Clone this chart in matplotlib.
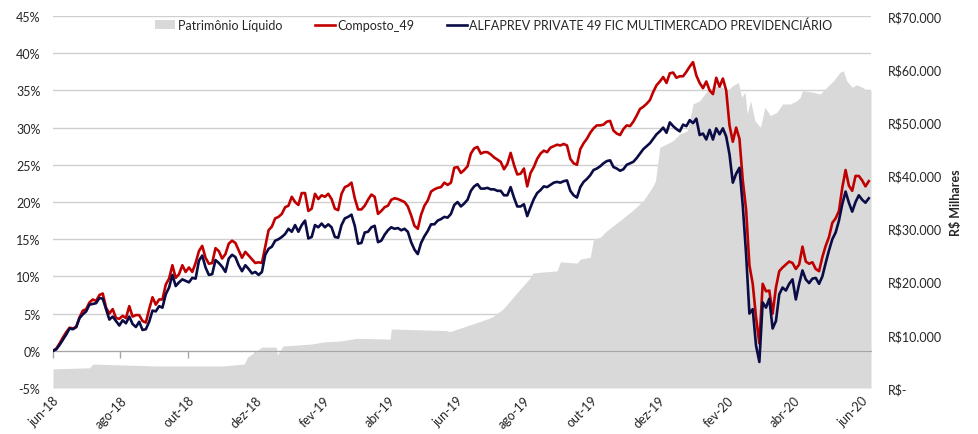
import matplotlib
matplotlib.use('Agg')
import matplotlib.pyplot as plt
import matplotlib.dates as mdates
import pandas as pd
from matplotlib.patches import Patch
from matplotlib.lines import Line2D
from matplotlib.ticker import FixedLocator, FuncFormatter

# daily quotes every 3 days from 2018-06-01, in %
START = '2018-06-01'
COMPOSTO = [
    0, 0.3, 1.0, 1.8, 2.5, 3.1, 3.0, 3.2, 4.5, 5.4,
    5.6, 6.5, 6.9, 6.7, 7.5, 7.7, 5.8, 5.0, 5.6, 4.4,
    4.3, 4.7, 4.4, 6.0, 4.6, 4.8, 4.8, 4.0, 3.8, 5.6,
    7.2, 6.2, 6.9, 6.9, 8.9, 9.7, 11.5, 9.8, 10.3, 11.5,
    10.6, 11.2, 10.6, 11.8, 13.4, 14.1, 12.5, 11.7, 11.8, 13.8,
    13.4, 12.4, 13.0, 14.4, 14.8, 14.5, 13.5, 12.5, 13.3, 12.8,
    12.3, 11.8, 11.9, 11.8, 14.0, 16.2, 16.7, 17.8, 18.0, 18.4,
    19.3, 19.5, 20.7, 20.0, 19.6, 21.2, 21.2, 18.8, 19.1, 21.1,
    20.4, 20.9, 20.7, 21.1, 20.4, 19.1, 18.9, 21.1, 22.0, 22.2,
    22.6, 20.5, 19.0, 19.0, 19.5, 20.3, 21.0, 20.7, 18.4, 18.8,
    19.3, 19.5, 20.3, 20.5, 20.4, 20.2, 20.0, 19.4, 18.2, 16.8,
    16.4, 18.3, 19.5, 20.2, 21.4, 21.7, 21.9, 22.0, 22.6, 22.3,
    22.6, 24.6, 24.7, 23.9, 24.3, 24.8, 26.5, 27.2, 27.4, 26.5,
    26.7, 26.7, 26.4, 26.0, 25.7, 25.4, 24.4, 25.1, 26.6, 25.0,
    23.7, 23.8, 24.5, 22.1, 23.9, 24.7, 25.8, 26.5, 26.9, 26.7,
    27.3, 27.5, 27.7, 27.6, 27.8, 27.6, 25.8, 25.2, 25.0, 27.1,
    27.9, 28.5, 29.3, 29.9, 30.3, 30.3, 30.4, 30.8, 30.9, 29.6,
    29.2, 29.0, 29.8, 30.3, 30.2, 30.8, 31.6, 32.5, 32.8, 33.2,
    33.7, 34.8,
    35.7, 36.2, 36.8, 36.0, 37.3, 37.4, 36.7, 36.9, 36.9, 37.5,
    38.2, 38.8, 37.0, 36.0, 35.3, 36.2, 35.0, 34.5, 36.7, 35.5,
    36.6, 35.0, 30.3, 28.1, 30.0, 28.5, 22.9, 19.0, 11.5, 9.0,
    4.5, 1.0, 9.0, 8.0, 8.1, 5.0, 8.5, 10.7, 11.2, 11.6,
    12.0, 11.8, 11.0, 11.6, 14.0, 12.0, 11.7, 11.9, 11.0, 10.7,
    12.6, 14.1, 15.3, 17.2, 17.8, 18.8, 21.9, 24.3, 22.2, 21.5,
    23.5, 23.5, 22.9, 22.1, 22.8,
]
ALFAPREV = [
    0, 0.2, 0.8, 1.5, 2.2, 3.0, 2.9, 3.2, 4.4, 4.9,
    5.3, 6.2, 6.3, 6.4, 7.1, 7.0, 5.6, 4.2, 4.6, 4.0,
    3.4, 4.1, 3.7, 4.6, 3.6, 3.2, 3.9, 2.8, 2.9, 3.9,
    5.4, 5.3, 6.0, 5.8, 7.6, 8.5, 10.2, 8.7, 9.2, 9.6,
    9.4, 9.2, 9.8, 9.7, 12.1, 12.8, 11.2, 10.2, 10.3, 12.2,
    11.8, 11.3, 10.6, 12.4, 12.9, 12.6, 11.5, 10.7, 11.5, 11.0,
    10.4, 10.6, 10.2, 10.6, 12.9, 13.7, 14.0, 14.8, 15.0, 15.3,
    15.7, 16.4, 16.0, 16.9, 16.0, 16.9, 17.5, 15.1, 15.3, 16.9,
    16.6, 17.1, 16.6, 17.0, 16.6, 15.3, 15.2, 16.9, 17.8, 18.0,
    18.3, 16.8, 14.4, 14.5, 15.9, 16.0, 16.6, 16.8, 14.6, 14.8,
    15.6, 16.2, 16.6, 16.4, 16.5, 16.2, 16.4, 16.0, 14.6, 13.6,
    13.0, 14.5, 15.4, 16.1, 17.0, 17.0, 17.5, 17.7, 18.0, 17.9,
    18.4, 19.6, 20.0, 19.4, 19.8, 20.3, 21.5, 22.1, 22.4, 21.8,
    21.8, 21.9, 21.7, 21.7, 21.5, 21.5, 20.9, 20.9, 22.0, 20.6,
    19.4, 19.4, 19.7, 18.1, 19.3, 20.4, 21.2, 21.6, 22.1, 22.0,
    22.3, 22.6, 22.7, 22.6, 22.8, 22.9, 21.5, 20.9, 20.6, 22.0,
    22.7, 23.1, 23.6, 24.3, 24.5, 24.8, 25.2, 25.5, 25.6, 24.7,
    24.5, 24.2, 24.4, 25.0, 25.2, 25.4, 25.9, 26.5, 27.1, 27.5,
    27.9, 28.5,
    29.1, 29.5, 30.0, 29.3, 30.7, 30.2, 29.8, 29.5, 30.4, 30.2,
    31.0, 30.6, 31.2, 29.0, 29.2, 28.4, 29.7, 28.4, 29.9, 29.1,
    29.9, 28.8, 26.4, 22.6, 23.8, 24.6, 19.5, 13.0, 5.0, 5.6,
    0.7, -1.5, 6.5, 5.8, 7.0, 3.0, 4.0, 7.6, 8.5, 8.1,
    9.0, 9.6, 6.9, 9.0, 10.8, 9.6, 9.1, 9.7, 9.8, 9.0,
    10.0, 11.8, 13.5, 15.0, 15.9, 17.5, 19.7, 21.4, 19.9, 18.7,
    20.0, 20.9, 20.3, 19.9, 20.5,
]

# Patrimônio Líquido (R$ milhares)
PL_DATES = [
    '2018-06-01', '2018-07-04', '2018-07-07', '2018-09-03', '2018-11-02',
    '2018-11-21', '2018-11-24', '2018-12-07', '2018-12-20', '2018-12-21',
    '2018-12-26', '2019-01-22', '2019-01-31', '2019-02-16', '2019-03-03',
    '2019-04-02', '2019-04-03', '2019-05-23', '2019-05-26', '2019-06-20',
    '2019-07-03', '2019-07-13', '2019-07-18', '2019-07-26', '2019-08-07',
    '2019-08-09', '2019-08-31', '2019-09-03', '2019-09-18', '2019-09-21',
    '2019-09-30', '2019-10-03', '2019-10-09', '2019-10-15', '2019-10-27',
    '2019-11-07', '2019-11-17', '2019-11-21', '2019-11-26', '2019-11-28',
    '2019-12-02', '2019-12-08', '2019-12-14', '2019-12-20', '2019-12-27',
    '2020-01-01', '2020-01-07', '2020-01-14', '2020-01-19', '2020-01-25',
    '2020-02-01', '2020-02-06', '2020-02-11', '2020-02-14', '2020-02-17',
    '2020-02-19', '2020-02-22', '2020-02-26', '2020-03-02', '2020-03-06',
    '2020-03-11', '2020-03-17', '2020-03-22', '2020-03-29', '2020-04-04',
    '2020-04-07', '2020-04-09', '2020-04-19', '2020-04-25', '2020-05-01',
    '2020-05-07', '2020-05-13', '2020-05-16', '2020-05-19', '2020-05-24',
    '2020-05-28', '2020-06-02', '2020-06-06', '2020-06-10',
]
PL_VALUES = [
    3600, 3800, 4500, 4150, 4150,
    4500, 5800, 7700, 7700, 6200,
    7900, 8300, 8650, 8850, 9350,
    9200, 11100, 10800, 10600, 12350,
    13300, 14850, 16000, 18000, 20800,
    21650, 22050, 23750, 23500, 24250,
    24600, 28050, 28350, 29600, 31500,
    33350, 35250, 36500, 38050, 39000,
    45300, 45900, 46550, 47800, 48400,
    53450, 54050, 55950, 56600, 56900,
    55950, 56900, 57500, 54700, 55650,
    51550, 54050, 50300, 49050, 52800,
    51250, 51900, 53450, 53450, 54050,
    54700, 55950, 55650, 55300, 56600,
    57800, 59400, 59700, 57800, 56600,
    57050, 56600, 56050, 55950,
]

TICK_DATES = ['2018-06-01', '2018-08-01', '2018-10-01', '2018-12-01', '2019-02-01',
              '2019-04-01', '2019-06-01', '2019-08-01', '2019-10-01', '2019-12-01',
              '2020-02-01', '2020-04-01', '2020-06-01']
TICK_LABELS = ['jun-18', 'ago-18', 'out-18', 'dez-18', 'fev-19', 'abr-19', 'jun-19',
               'ago-19', 'out-19', 'dez-19', 'fev-20', 'abr-20', 'jun-20']

PCT_MIN, PCT_MAX = -5, 45
PL_MAX = 70000


def pct_to_pl(p):
    return (p - PCT_MIN) / (PCT_MAX - PCT_MIN) * PL_MAX


def pl_to_pct(v):
    return v / PL_MAX * (PCT_MAX - PCT_MIN) + PCT_MIN


def main():
    plt.rcParams['font.family'] = ['Lato', 'DejaVu Sans']
    plt.rcParams['font.size'] = 9
    text_color = '#262626'

    dates = pd.date_range(START, periods=len(COMPOSTO), freq='3D')
    pl_dates = pd.to_datetime(PL_DATES)
    pl_pct = [pl_to_pct(v) for v in PL_VALUES]
    tick_nums = mdates.date2num(pd.to_datetime(TICK_DATES))

    fig = plt.figure(figsize=(9.79, 4.35), dpi=100)
    ax = fig.add_axes([53 / 979, 1 - 389 / 435, 818 / 979, 372 / 435])

    ax.fill_between(pl_dates, PCT_MIN, pl_pct, color='#d9d9d9', lw=0, zorder=1)
    ax.plot(dates, COMPOSTO, color='#c00000', lw=1.9, zorder=3)
    ax.plot(dates, ALFAPREV, color='#0b0b45', lw=1.9, zorder=4)

    ax.set_xlim(pd.Timestamp('2018-06-01'), pd.Timestamp('2020-06-10'))
    ax.set_ylim(PCT_MIN, PCT_MAX)
    ax.set_yticks(range(PCT_MIN, PCT_MAX + 1, 5))
    ax.yaxis.set_major_formatter(FuncFormatter(lambda v, _: f'{v:.0f}%'))
    ax.set_axisbelow(True)
    ax.grid(axis='y', color='#d0d0d0', lw=1)
    ax.tick_params(axis='y', length=0, pad=9, colors=text_color)

    for s in ['top', 'left', 'right']:
        ax.spines[s].set_visible(False)
    ax.spines['bottom'].set_position(('data', 0))
    ax.spines['bottom'].set_color('#a6a6a6')
    ax.spines['bottom'].set_zorder(2)
    ax.set_xticks(tick_nums)
    ax.tick_params(axis='x', length=5, width=1, color='#a6a6a6', labelbottom=False)

    # month labels sit under the plot, not on the 0% line
    sec_x = ax.secondary_xaxis('bottom')
    sec_x.set_xticks(tick_nums, TICK_LABELS)
    sec_x.tick_params(length=0, pad=4, colors=text_color)
    sec_x.spines['bottom'].set_visible(False)
    for lab in sec_x.get_xticklabels():
        lab.set_rotation(45)
        lab.set_ha('right')
        lab.set_rotation_mode('anchor')

    sec_y = ax.secondary_yaxis('right', functions=(pct_to_pl, pl_to_pct))
    sec_y.yaxis.set_major_locator(FixedLocator(range(0, PL_MAX + 1, 10000)))
    sec_y.yaxis.set_major_formatter(FuncFormatter(
        lambda v, _: 'R$-' if v == 0 else 'R$' + f'{v:,.0f}'.replace(',', '.')))
    sec_y.tick_params(length=0, pad=12, colors=text_color)
    sec_y.spines['right'].set_visible(False)
    sec_y.set_ylabel('R$ Milhares', fontweight='bold', color=text_color, labelpad=6)

    handles = [
        Patch(facecolor='#d9d9d9', edgecolor='none'),
        Line2D([], [], color='#c00000', lw=1.9),
        Line2D([], [], color='#0b0b45', lw=1.9),
    ]
    labels = ['Patrimônio Líquido', 'Composto_49',
              'ALFAPREV PRIVATE 49 FIC MULTIMERCADO PREVIDENCIÁRIO']
    leg = ax.legend(handles, labels, loc='center', bbox_to_anchor=(0.539, 0.976),
                    ncol=3, frameon=False, handlelength=1.6, handletextpad=0.2,
                    columnspacing=2.6, borderaxespad=0)
    for t in leg.get_texts():
        t.set_color(text_color)

    fig.savefig('out.png', dpi=100)


if __name__ == "__main__":
    main()
